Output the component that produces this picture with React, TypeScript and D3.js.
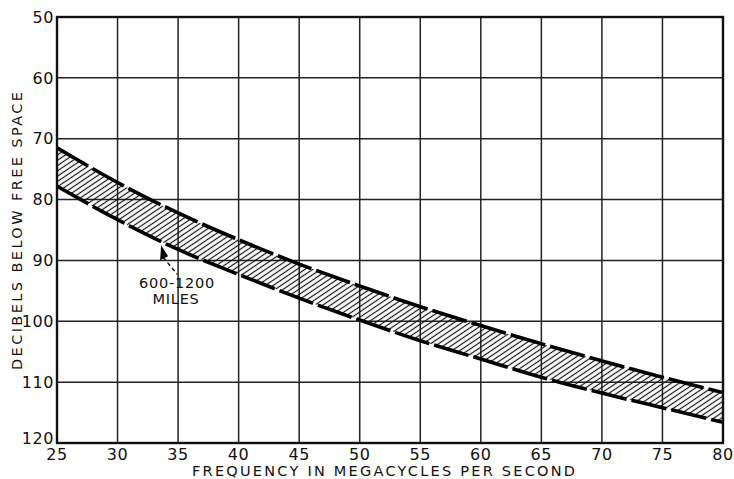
import React from "react";
import * as d3 from "d3";

const freqs = [25, 30, 35, 40, 45, 50, 55, 60, 65, 70, 75, 80];
const upperDb = [71.5, 77.2, 82.2, 86.6, 90.6, 94.2, 97.6, 100.7, 103.7, 106.5, 109.2, 111.7];
const lowerDb = [77.8, 83.3, 88.2, 92.3, 96.2, 99.8, 103.2, 106.2, 109.2, 111.8, 114.2, 116.6];
const xTicks = [25, 30, 35, 40, 45, 50, 55, 60, 65, 70, 75, 80];
const yTicks = [50, 60, 70, 80, 90, 100, 110, 120];
const bandLabel = ["600-1200", "MILES"];
const xTitle = "FREQUENCY IN MEGACYCLES PER SECOND";
const yTitle = "DECIBELS BELOW FREE SPACE";

const W = 734;
const H = 479;
const L = 57, R = 723, T = 17, B = 443;

export default function App() {
  const x = d3.scaleLinear().domain([25, 80]).range([L, R]);
  const y = d3.scaleLinear().domain([50, 120]).range([T, B]);
  const pts = freqs.map((f, i) => ({ f, u: upperDb[i], l: lowerDb[i] }));
  const curve = d3.curveMonotoneX;
  const area = d3.area<any>().x(d => x(d.f)).y0(d => y(d.u)).y1(d => y(d.l)).curve(curve);
  const upLine = d3.line<any>().x(d => x(d.f)).y(d => y(d.u)).curve(curve);
  const loLine = d3.line<any>().x(d => x(d.f)).y(d => y(d.l)).curve(curve);
  const font = "'DejaVu Sans', sans-serif";

  const tip = { f: 33.6, v: 87.5 };
  const tx = x(tip.f), ty = y(tip.v);

  return (
    <svg width={W} height={H} style={{ position: "absolute", left: 0, top: 0, background: "#fff" }}>
      <defs>
        <pattern id="hatch" patternUnits="userSpaceOnUse" width={12} height={4.4} patternTransform="rotate(-34)">
          <line x1={0} y1={2.2} x2={12} y2={2.2} stroke="#111" strokeWidth={1.2} />
        </pattern>
        <clipPath id="plot">
          <rect x={L} y={T} width={R - L} height={B - T} />
        </clipPath>
      </defs>
      <rect x={0} y={0} width={W} height={H} fill="#fff" />
      {xTicks.map(t => (
        <line key={"gx" + t} x1={x(t)} x2={x(t)} y1={T} y2={B} stroke="#222" strokeWidth={1.5} />
      ))}
      {yTicks.map(t => (
        <line key={"gy" + t} x1={L} x2={R} y1={y(t)} y2={y(t)} stroke="#222" strokeWidth={1.5} />
      ))}
      <g clipPath="url(#plot)">
        <path d={area(pts) || ""} fill="url(#hatch)" />
        <path d={upLine(pts) || ""} fill="none" stroke="#000" strokeWidth={3.6} strokeDasharray="36 5" />
        <path d={loLine(pts) || ""} fill="none" stroke="#000" strokeWidth={3.6} strokeDasharray="36 5" />
      </g>
      <rect x={L} y={T} width={R - L} height={B - T} fill="none" stroke="#111" strokeWidth={2.4} />
      {yTicks.map((t, i) => (
        <text key={"ly" + t} x={L - 3} y={i === yTicks.length - 1 ? y(t) - 5 : y(t)} dy="0.36em" textAnchor="end" fontFamily={font} fontSize={16} letterSpacing={0.6} fill="#111">{t}</text>
      ))}
      {xTicks.map(t => (
        <text key={"lx" + t} x={x(t)} y={460} textAnchor="middle" fontFamily={font} fontSize={16} letterSpacing={0.6} fill="#111">{t}</text>
      ))}
      <text x={192} y={476} textLength={383} lengthAdjust="spacing" fontFamily={font} fontSize={14.5} fill="#111">{xTitle}</text>
      <text transform={`translate(22,370) rotate(-90)`} x={0} y={0} textLength={278} lengthAdjust="spacing" fontFamily={font} fontSize={14.5} fill="#111">{yTitle}</text>
      <polygon points={`${tx},${ty} ${tx - 1},${ty + 15} ${tx + 7},${ty + 11}`} fill="#000" />
      <line x1={tx + 2} y1={ty + 12} x2={tx + 16} y2={ty + 29} stroke="#111" strokeWidth={1.5} strokeDasharray="4 3" />
      <text x={177} y={288} textAnchor="middle" fontFamily={font} fontSize={14.5} letterSpacing={0.8} fill="#111">{bandLabel[0]}</text>
      <text x={176} y={304} textAnchor="middle" fontFamily={font} fontSize={14.5} letterSpacing={0.8} fill="#111">{bandLabel[1]}</text>
    </svg>
  );
}
